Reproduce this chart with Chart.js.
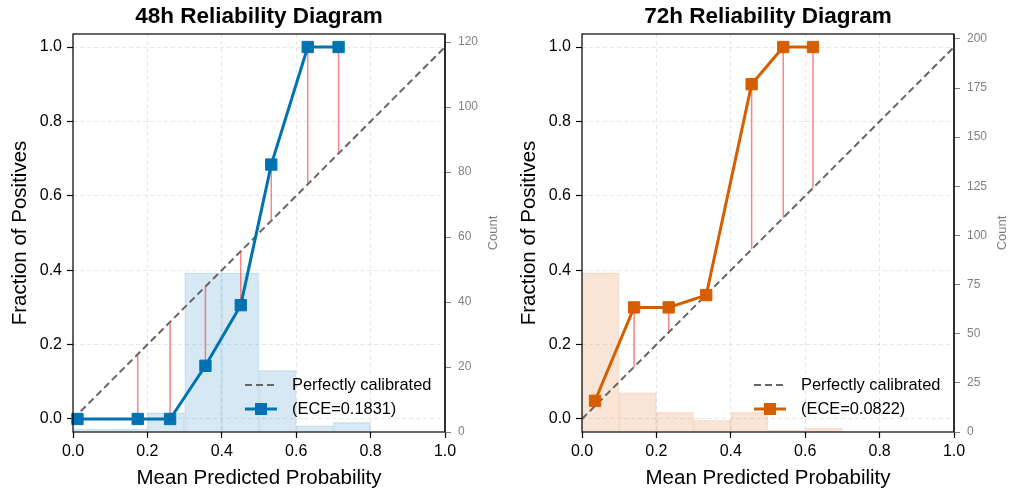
<!DOCTYPE html>
<html><head><meta charset="utf-8">
<script src="https://cdn.jsdelivr.net/npm/chart.js@4.4.0/dist/chart.umd.min.js"></script>
<style>
html,body{margin:0;padding:0;background:#fff;width:1009px;height:491px;overflow:hidden}
#c1{position:absolute;left:0;top:0}
#c2{position:absolute;left:509px;top:0}
</style></head><body>
<canvas id="c1" width="509" height="491"></canvas>
<canvas id="c2" width="500" height="491"></canvas>
<script>
// ---- data ----
const binCenters = [0.05,0.15,0.25,0.35,0.45,0.55,0.65,0.75,0.85,0.95];
const counts48 = [1,1,6,49,49,19,2,3,0,0];
const counts72 = [81,20,10,6,10,1,2,0,0,0];
const meanPred48 = [0.012,0.174,0.261,0.356,0.451,0.533,0.631,0.714];
const fracPos48 = [0,0,0,0.143,0.306,0.684,1,1];
const meanPred72 = [0.035,0.14,0.233,0.334,0.456,0.541,0.621];
const fracPos72 = [0.049,0.3,0.3,0.333,0.9,1,1];
const probTicks = [0,0.2,0.4,0.6,0.8,1.0];
const countTicks48 = [0,20,40,60,80,100,120];
const countTicks72 = [0,25,50,75,100,125,150,175,200];
const diagonal = [0,1];
const titles = ['48h Reliability Diagram','72h Reliability Diagram'];
const eceLabels = ['(ECE=0.1831)','(ECE=0.0822)'];

const FAM = "'Liberation Sans', Arial, Helvetica, sans-serif";

function makeChart(canvasId, opt){
  const canvas = document.getElementById(canvasId);
  const W = canvas.width;
  const maxCount = Math.max(...opt.counts) * 2.5;
  const gapPts = [];
  opt.meanPred.forEach((m,i)=>{
    gapPts.push({x:m, y:opt.frac[i]});
    gapPts.push({x:m, y:m});
    gapPts.push({x:m, y:null});
  });
  const decor = {
    id:'decor'+canvasId,
    afterDraw(chart){
      const ctx = chart.ctx, ca = chart.chartArea;
      ctx.save();
      // frame
      ctx.strokeStyle = '#000'; ctx.lineWidth = 1.2; ctx.setLineDash([]);
      ctx.strokeRect(ca.left, ca.top, ca.right-ca.left, ca.bottom-ca.top);
      ctx.strokeStyle = '#222'; ctx.lineWidth = 1.6;
      ctx.beginPath(); ctx.moveTo(ca.right, ca.top); ctx.lineTo(ca.right, ca.bottom); ctx.stroke();
      // title
      ctx.fillStyle = '#000'; ctx.font = 'bold 22.5px ' + FAM;
      ctx.textAlign = 'center'; ctx.textBaseline = 'middle';
      ctx.fillText(opt.title, (ca.left+ca.right)/2, 17);
      // legend
      const x0 = ca.right - 200, x1 = x0 + 32, yA = ca.bottom - 47, yB = ca.bottom - 23;
      ctx.strokeStyle = '#666'; ctx.lineWidth = 2; ctx.setLineDash([7,4]);
      ctx.beginPath(); ctx.moveTo(x0, yA); ctx.lineTo(x1, yA); ctx.stroke();
      ctx.setLineDash([]);
      ctx.strokeStyle = opt.color; ctx.lineWidth = 3;
      ctx.beginPath(); ctx.moveTo(x0, yB); ctx.lineTo(x1, yB); ctx.stroke();
      ctx.fillStyle = opt.color; ctx.fillRect(x0+16-6, yB-6, 12, 12);
      ctx.fillStyle = '#000'; ctx.font = '16.4px ' + FAM; ctx.textAlign = 'left';
      ctx.fillText('Perfectly calibrated', ca.right - 153, yA);
      ctx.fillText(opt.ece, ca.right - 153, yB);
      // Count label
      ctx.font = '12px ' + FAM;
      const tw = ctx.measureText(String(opt.countTicks[opt.countTicks.length-1])).width;
      const cx = ca.right + 13 + tw + 15;
      ctx.font = '13px ' + FAM;
      ctx.translate(cx, (ca.top+ca.bottom)/2); ctx.rotate(-Math.PI/2);
      ctx.fillStyle = '#808080'; ctx.textAlign = 'center'; ctx.textBaseline = 'middle';
      ctx.fillText('Count', 0, 0);
      ctx.restore();
    }
  };
  return new Chart(canvas, {
    type:'line',
    data:{
      datasets:[
        {type:'bar', data: binCenters.map((c,i)=>({x:c, y:opt.counts[i]})), yAxisID:'y2',
          backgroundColor: opt.fill, borderColor: opt.edge, borderWidth: 0.8,
          barPercentage:1, categoryPercentage:1, order:4, borderSkipped:'start'},
        {type:'line', data: diagonal.map(v=>({x:v, y:v})), yAxisID:'y',
          borderColor:'#666', borderWidth:2, borderDash:[7,4], pointRadius:0, order:3},
        {type:'line', data: gapPts, yAxisID:'y', spanGaps:false,
          borderColor:'rgba(240,70,70,0.65)', borderWidth:1.5, pointRadius:0, order:2},
        {type:'line', data: opt.meanPred.map((m,i)=>({x:m, y:opt.frac[i]})), yAxisID:'y',
          borderColor: opt.color, borderWidth:3, pointStyle:'rect', pointRadius:8,
          pointBackgroundColor: opt.color, pointBorderColor: opt.color, pointBorderWidth:1,
          order:1, clip:false}
      ]
    },
    options:{
      responsive:false, animation:false, events:[],
      layout:{padding:{top:34,left:0,right:0,bottom:0}},
      plugins:{legend:{display:false}, tooltip:{enabled:false}, title:{display:false}},
      scales:{
        x:{type:'linear', min:0, max:1, offset:false,
          afterBuildTicks:s=>{s.ticks = probTicks.map(v=>({value:v}));},
          afterFit:s=>{s.height = 59;},
          ticks:{callback:v=>Number(v).toFixed(1), font:{size:16, family:FAM}, color:'#000', padding:4, maxRotation:0, autoSkip:false},
          grid:{offset:false, color:'rgba(0,0,0,0.12)', lineWidth:0.8, tickColor:'#000', tickLength:6, tickWidth:1.2, tickBorderDash:[]},
          border:{display:false, dash:[4,3]},
          title:{display:true, text:'Mean Predicted Probability', font:{size:20.5, family:FAM}, color:'#000', padding:{top:0,bottom:0}}
        },
        y:{type:'linear', position:'left', min:-0.035, max:1.035,
          afterBuildTicks:s=>{s.ticks = probTicks.map(v=>({value:v}));},
          afterFit:s=>{s.width = 73;},
          ticks:{callback:v=>Number(v).toFixed(1), font:{size:16, family:FAM}, color:'#000', padding:5, autoSkip:false},
          grid:{color:'rgba(0,0,0,0.12)', lineWidth:0.8, tickColor:'#000', tickLength:6, tickWidth:1.2, tickBorderDash:[]},
          border:{display:false, dash:[4,3]},
          title:{display:true, text:'Fraction of Positives', font:{size:20.5, family:FAM}, color:'#000', padding:{top:8,bottom:0}}
        },
        y2:{type:'linear', position:'right', min:0, max:maxCount,
          afterBuildTicks:s=>{s.ticks = opt.countTicks.map(v=>({value:v}));},
          afterFit:s=>{s.width = W - 445;},
          ticks:{font:{size:12, family:FAM}, color:'#808080', padding:7, autoSkip:false},
          grid:{drawOnChartArea:false, tickColor:'#808080', tickLength:6, tickWidth:1, tickBorderDash:[]},
          border:{display:false}
        }
      }
    },
    plugins:[decor]
  });
}

makeChart('c1', {counts:counts48, meanPred:meanPred48, frac:fracPos48, countTicks:countTicks48,
  title:titles[0], ece:eceLabels[0], color:'#0072B2', fill:'rgba(0,114,178,0.16)', edge:'rgba(0,114,178,0.12)'});
makeChart('c2', {counts:counts72, meanPred:meanPred72, frac:fracPos72, countTicks:countTicks72,
  title:titles[1], ece:eceLabels[1], color:'#D55E00', fill:'rgba(213,94,0,0.16)', edge:'rgba(213,94,0,0.12)'});
</script>
</body></html>
